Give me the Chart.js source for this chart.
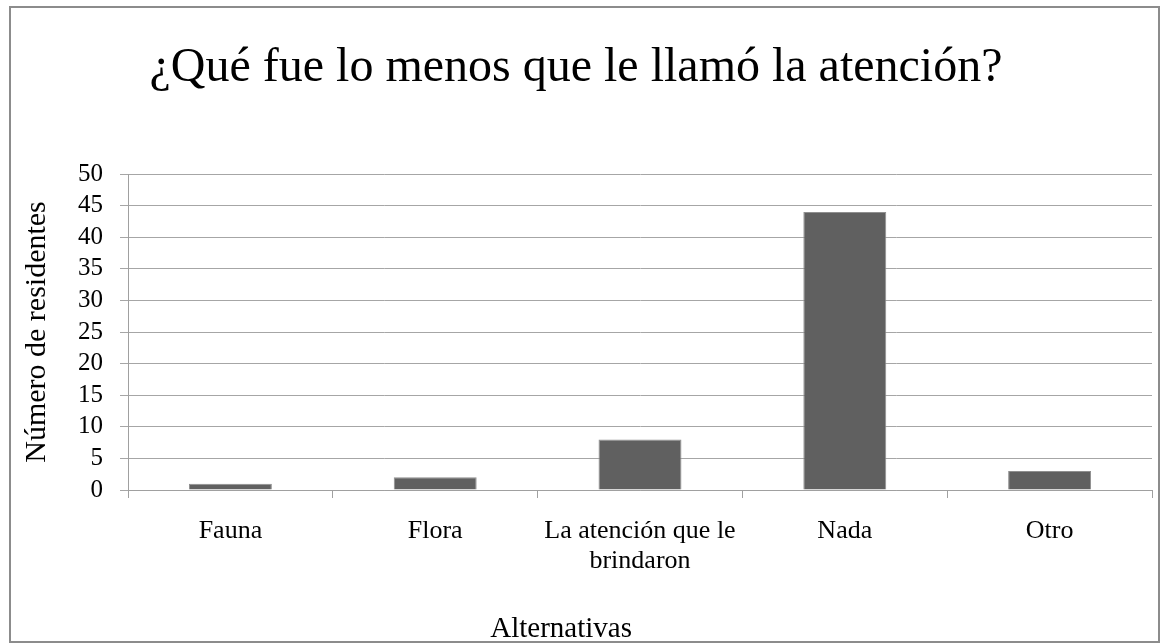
<!DOCTYPE html>
<html><head><meta charset="utf-8">
<script src="https://cdn.jsdelivr.net/npm/chart.js@4.4.1/dist/chart.umd.min.js"></script>
<style>html,body{margin:0;padding:0;background:#fff}#wrap{width:1161px;height:643px;position:relative}</style>
</head><body><div id="wrap"><canvas id="c"></canvas></div>
<script>
const chartTitle = '¿Qué fue lo menos que le llamó la atención?';
const categories = ['Fauna', 'Flora', ['La atención que le', 'brindaron'], 'Nada', 'Otro'];
const residentes = [1, 2, 8, 44, 3];
const yTitle = 'Número de residentes';
const xTitle = 'Alternativas';
const yMin = 0, yMax = 50, yStep = 5;

const FONT = "'Liberation Serif', 'Times New Roman', serif";

const frame = {
  id: 'frame',
  beforeDraw(chart) {
    const ctx = chart.ctx;
    ctx.save();
    ctx.fillStyle = '#fff';
    ctx.fillRect(0, 0, chart.width, chart.height);
    ctx.strokeStyle = '#8c8c8c';
    ctx.lineWidth = 2;
    ctx.strokeRect(10, 7, 1149, 635);
    ctx.restore();
  },
  afterDraw(chart) {
    const ctx = chart.ctx;
    const a = chart.chartArea;
    ctx.save();
    ctx.fillStyle = '#000';
    ctx.font = "29px " + FONT;
    ctx.textAlign = 'center';
    ctx.textBaseline = 'alphabetic';
    ctx.fillText(xTitle, a.left + (a.right - a.left) * 0.423, 637);
    ctx.restore();
  }
};

new Chart(document.getElementById('c'), {
  type: 'bar',
  data: {
    labels: categories,
    datasets: [{
      data: residentes,
      backgroundColor: '#606060',
      borderColor: '#8f8f8f',
      borderWidth: 1,
      barPercentage: 0.405,
      categoryPercentage: 1
    }]
  },
  options: {
    responsive: true,
    maintainAspectRatio: false,
    animation: false,
    layout: { padding: { left: 0, right: 9, top: 0, bottom: 0 } },
    plugins: {
      legend: { display: false },
      tooltip: { enabled: false },
      title: {
        display: true,
        text: chartTitle,
        color: '#000',
        font: { family: FONT, size: 48, weight: 'normal', lineHeight: 1.2 },
        padding: { top: 40, bottom: 76.4 }
      }
    },
    scales: {
      x: {
        grid: { display: true, drawOnChartArea: false, drawTicks: true, tickLength: 8, color: '#a0a0a0', offset: true },
        border: { color: '#a0a0a0', width: 1 },
        ticks: { color: '#000', font: { family: FONT, size: 26, lineHeight: 1.15 }, padding: 18, maxRotation: 0, autoSkip: false },
        afterFit(scale) { scale.height = 153; }
      },
      y: {
        min: yMin, max: yMax,
        ticks: { stepSize: yStep, autoSkip: false, color: '#000', font: { family: FONT, size: 25, lineHeight: 1 }, padding: 17 },
        grid: { color: '#a6a6a6', lineWidth: 1, tickLength: 8 },
        border: { color: '#a0a0a0', width: 1 },
        title: { display: true, text: yTitle, color: '#000', font: { family: FONT, size: 30, lineHeight: 1.2 }, padding: { top: 19, bottom: 0 } },
        afterFit(scale) { scale.width = 128; }
      }
    }
  },
  plugins: [frame]
});
</script></body></html>
